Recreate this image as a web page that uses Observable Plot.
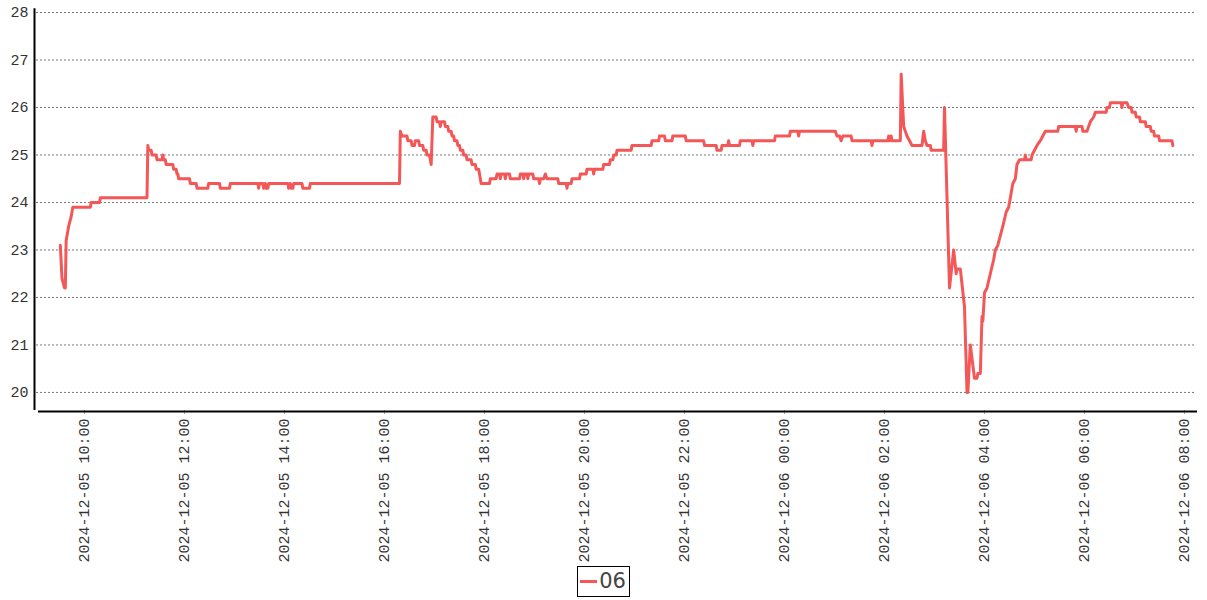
<!DOCTYPE html>
<html>
<head>
<meta charset="utf-8">
<script src="https://cdn.jsdelivr.net/npm/d3@7"></script>
<script src="https://cdn.jsdelivr.net/npm/@observablehq/plot@0.6"></script>
<style>
  body { margin: 0; background: #fff; }
  #legend { display: flex; justify-content: center; margin-top: 4px; }
  #legend .box { border: 1px solid #000; padding: 1px 3px 1px 2px; display: flex; align-items: center;
    font: 21px "DejaVu Sans", sans-serif; color: #444; line-height: 27px; }
  #legend .sw { width: 17px; height: 3px; background: #f35757; margin-right: 2px; }
</style>
</head>
<body>
<div id="chart"></div>
<div id="legend"><div class="box"><span class="sw"></span><span id="lg"></span></div></div>
<script>
const seriesName = "06";
const times = [
"2024-12-05 09:31","2024-12-05 09:33","2024-12-05 09:36","2024-12-05 09:37","2024-12-05 09:38","2024-12-05 09:41","2024-12-05 09:44","2024-12-05 09:46",
"2024-12-05 10:07","2024-12-05 10:08","2024-12-05 10:18","2024-12-05 10:19","2024-12-05 11:15","2024-12-05 11:16","2024-12-05 11:17","2024-12-05 11:20",
"2024-12-05 11:21","2024-12-05 11:26","2024-12-05 11:27","2024-12-05 11:33","2024-12-05 11:34","2024-12-05 11:35","2024-12-05 11:37","2024-12-05 11:38",
"2024-12-05 11:46","2024-12-05 11:47","2024-12-05 11:50","2024-12-05 11:51","2024-12-05 11:52","2024-12-05 11:53","2024-12-05 12:06","2024-12-05 12:07",
"2024-12-05 12:14","2024-12-05 12:15","2024-12-05 12:28","2024-12-05 12:29","2024-12-05 12:42","2024-12-05 12:43","2024-12-05 12:54","2024-12-05 12:55",
"2024-12-05 13:28","2024-12-05 13:29","2024-12-05 13:30","2024-12-05 13:34","2024-12-05 13:35","2024-12-05 13:37","2024-12-05 13:38","2024-12-05 13:40",
"2024-12-05 13:41","2024-12-05 14:04","2024-12-05 14:05","2024-12-05 14:07","2024-12-05 14:08","2024-12-05 14:10","2024-12-05 14:11","2024-12-05 14:21",
"2024-12-05 14:22","2024-12-05 14:30","2024-12-05 14:31","2024-12-05 16:18","2024-12-05 16:19","2024-12-05 16:21","2024-12-05 16:27","2024-12-05 16:28",
"2024-12-05 16:32","2024-12-05 16:33","2024-12-05 16:36","2024-12-05 16:37","2024-12-05 16:41","2024-12-05 16:42","2024-12-05 16:46","2024-12-05 16:47",
"2024-12-05 16:50","2024-12-05 16:51","2024-12-05 16:54","2024-12-05 16:56","2024-12-05 16:58","2024-12-05 17:02","2024-12-05 17:03","2024-12-05 17:06",
"2024-12-05 17:07","2024-12-05 17:08","2024-12-05 17:12","2024-12-05 17:13","2024-12-05 17:16","2024-12-05 17:17","2024-12-05 17:20","2024-12-05 17:21",
"2024-12-05 17:23","2024-12-05 17:24","2024-12-05 17:27","2024-12-05 17:28","2024-12-05 17:30","2024-12-05 17:31","2024-12-05 17:34","2024-12-05 17:35",
"2024-12-05 17:38","2024-12-05 17:39","2024-12-05 17:44","2024-12-05 17:45","2024-12-05 17:49","2024-12-05 17:50","2024-12-05 17:53","2024-12-05 17:54",
"2024-12-05 17:55","2024-12-05 17:56","2024-12-05 18:06","2024-12-05 18:07","2024-12-05 18:14","2024-12-05 18:15","2024-12-05 18:18","2024-12-05 18:19",
"2024-12-05 18:20","2024-12-05 18:24","2024-12-05 18:25","2024-12-05 18:26","2024-12-05 18:30","2024-12-05 18:31","2024-12-05 18:42","2024-12-05 18:43",
"2024-12-05 18:46","2024-12-05 18:47","2024-12-05 18:48","2024-12-05 18:51","2024-12-05 18:52","2024-12-05 18:53","2024-12-05 18:58","2024-12-05 18:59",
"2024-12-05 19:05","2024-12-05 19:06","2024-12-05 19:07","2024-12-05 19:11","2024-12-05 19:13","2024-12-05 19:15","2024-12-05 19:28","2024-12-05 19:29",
"2024-12-05 19:38","2024-12-05 19:39","2024-12-05 19:40","2024-12-05 19:44","2024-12-05 19:45","2024-12-05 19:54","2024-12-05 19:55","2024-12-05 20:02",
"2024-12-05 20:03","2024-12-05 20:10","2024-12-05 20:11","2024-12-05 20:12","2024-12-05 20:22","2024-12-05 20:23","2024-12-05 20:30","2024-12-05 20:31",
"2024-12-05 20:34","2024-12-05 20:35","2024-12-05 20:38","2024-12-05 20:39","2024-12-05 20:56","2024-12-05 20:57","2024-12-05 21:20","2024-12-05 21:21",
"2024-12-05 21:29","2024-12-05 21:30","2024-12-05 21:36","2024-12-05 21:37","2024-12-05 21:45","2024-12-05 21:46","2024-12-05 22:01","2024-12-05 22:02",
"2024-12-05 22:23","2024-12-05 22:24","2024-12-05 22:38","2024-12-05 22:39","2024-12-05 22:44","2024-12-05 22:45","2024-12-05 22:52","2024-12-05 22:53",
"2024-12-05 22:54","2024-12-05 23:06","2024-12-05 23:07","2024-12-05 23:21","2024-12-05 23:22","2024-12-05 23:23","2024-12-05 23:48","2024-12-05 23:49",
"2024-12-06 00:06","2024-12-06 00:07","2024-12-06 00:16","2024-12-06 00:17","2024-12-06 00:18","2024-12-06 01:01","2024-12-06 01:03","2024-12-06 01:06",
"2024-12-06 01:08","2024-12-06 01:10","2024-12-06 01:20","2024-12-06 01:21","2024-12-06 01:44","2024-12-06 01:45","2024-12-06 01:46","2024-12-06 02:04",
"2024-12-06 02:05","2024-12-06 02:06","2024-12-06 02:08","2024-12-06 02:09","2024-12-06 02:19","2024-12-06 02:20","2024-12-06 02:23","2024-12-06 02:25",
"2024-12-06 02:27","2024-12-06 02:30","2024-12-06 02:33","2024-12-06 02:45","2024-12-06 02:47","2024-12-06 02:49","2024-12-06 02:51","2024-12-06 02:55",
"2024-12-06 02:56","2024-12-06 03:11","2024-12-06 03:12","2024-12-06 03:18","2024-12-06 03:23","2024-12-06 03:26","2024-12-06 03:27","2024-12-06 03:31",
"2024-12-06 03:36","2024-12-06 03:39","2024-12-06 03:40","2024-12-06 03:43","2024-12-06 03:48","2024-12-06 03:51","2024-12-06 03:52","2024-12-06 03:55",
"2024-12-06 03:57","2024-12-06 03:58","2024-12-06 04:00","2024-12-06 04:03","2024-12-06 04:07","2024-12-06 04:11","2024-12-06 04:13","2024-12-06 04:16",
"2024-12-06 04:19","2024-12-06 04:22","2024-12-06 04:26","2024-12-06 04:29","2024-12-06 04:32","2024-12-06 04:34","2024-12-06 04:37","2024-12-06 04:39",
"2024-12-06 04:42","2024-12-06 04:48","2024-12-06 04:49","2024-12-06 04:50","2024-12-06 04:56","2024-12-06 04:57","2024-12-06 05:00","2024-12-06 05:03",
"2024-12-06 05:07","2024-12-06 05:10","2024-12-06 05:13","2024-12-06 05:28","2024-12-06 05:29","2024-12-06 05:49","2024-12-06 05:50","2024-12-06 05:51",
"2024-12-06 05:57","2024-12-06 05:58","2024-12-06 06:03","2024-12-06 06:07","2024-12-06 06:11","2024-12-06 06:13","2024-12-06 06:26","2024-12-06 06:27",
"2024-12-06 06:30","2024-12-06 06:31","2024-12-06 06:44","2024-12-06 06:45","2024-12-06 06:46","2024-12-06 06:51","2024-12-06 06:53","2024-12-06 06:56",
"2024-12-06 06:57","2024-12-06 07:01","2024-12-06 07:02","2024-12-06 07:06","2024-12-06 07:07","2024-12-06 07:13","2024-12-06 07:14","2024-12-06 07:19",
"2024-12-06 07:20","2024-12-06 07:23","2024-12-06 07:24","2024-12-06 07:29","2024-12-06 07:30","2024-12-06 07:45","2024-12-06 07:46"
];
const temps = [
23.1,22.4,22.2,22.2,23.2,23.5,23.7,23.9,
23.9,24.0,24.0,24.1,24.1,25.2,25.1,25.1,
25.0,25.0,24.9,24.9,25.0,24.9,24.9,24.8,
24.8,24.7,24.7,24.6,24.6,24.5,24.5,24.4,
24.4,24.3,24.3,24.4,24.4,24.3,24.3,24.4,
24.4,24.3,24.4,24.4,24.3,24.4,24.3,24.3,
24.4,24.4,24.3,24.4,24.3,24.3,24.4,24.4,
24.3,24.3,24.4,24.4,25.5,25.4,25.4,25.3,
25.3,25.2,25.2,25.3,25.3,25.2,25.2,25.1,
25.1,25.0,25.0,24.8,25.8,25.8,25.7,25.7,
25.6,25.7,25.7,25.6,25.6,25.5,25.5,25.4,
25.4,25.3,25.3,25.2,25.2,25.1,25.1,25.0,
25.0,24.9,24.9,24.8,24.8,24.7,24.7,24.6,
24.5,24.4,24.4,24.5,24.5,24.6,24.6,24.5,
24.6,24.6,24.5,24.6,24.6,24.5,24.5,24.6,
24.6,24.5,24.6,24.6,24.5,24.6,24.6,24.5,
24.5,24.4,24.5,24.5,24.6,24.5,24.5,24.4,
24.4,24.3,24.4,24.4,24.5,24.5,24.6,24.6,
24.7,24.7,24.6,24.7,24.7,24.8,24.8,24.9,
24.9,25.0,25.0,25.1,25.1,25.2,25.2,25.3,
25.3,25.4,25.4,25.3,25.3,25.4,25.4,25.3,
25.3,25.2,25.2,25.1,25.1,25.2,25.2,25.3,
25.2,25.2,25.3,25.3,25.2,25.3,25.3,25.4,
25.4,25.5,25.5,25.4,25.5,25.5,25.4,25.4,
25.3,25.4,25.4,25.3,25.3,25.2,25.3,25.3,
25.4,25.3,25.4,25.3,25.3,26.7,25.6,25.5,
25.4,25.3,25.2,25.2,25.5,25.3,25.2,25.2,
25.1,25.1,26.0,22.2,23.0,22.5,22.6,22.6,
21.8,20.0,20.0,21.0,20.3,20.3,20.4,20.4,
21.6,21.5,22.1,22.2,22.5,22.8,23.0,23.1,
23.3,23.5,23.8,23.9,24.2,24.4,24.5,24.8,
24.9,24.9,25.0,24.9,24.9,25.0,25.1,25.2,
25.3,25.4,25.5,25.5,25.6,25.6,25.5,25.6,
25.6,25.5,25.5,25.7,25.8,25.9,25.9,26.0,
26.0,26.1,26.1,26.0,26.1,26.1,26.0,26.0,
25.9,25.9,25.8,25.8,25.7,25.7,25.6,25.6,
25.5,25.5,25.4,25.4,25.3,25.3,25.2
];
const yTicks = [20, 21, 22, 23, 24, 25, 26, 27, 28];
const xDomain = ["2024-12-05 09:04:48", "2024-12-06 08:15:36"];
const yDomain = [19.62, 28];
const lineColor = "#f35757";

const parse = d3.utcParse("%Y-%m-%d %H:%M");
const parseS = d3.utcParse("%Y-%m-%d %H:%M:%S");
const data = times.map((t, i) => ({ time: parse(t), temp: temps[i] }));
const xd = xDomain.map(parseS);

const chart = Plot.plot({
  width: 1207,
  height: 562,
  marginLeft: 38,
  marginRight: 10,
  marginTop: 12,
  marginBottom: 152,
  style: { fontFamily: "'Liberation Mono', monospace", fontSize: "15px", color: "#333", background: "#fff", overflow: "visible" },
  x: { type: "utc", domain: xd },
  y: { domain: yDomain },
  marks: [
    Plot.gridY(yTicks, { stroke: "#777", strokeOpacity: 1, strokeDasharray: "2,2", strokeWidth: 1, dx: -2 }),
    Plot.axisY(yTicks, { tickSize: 0, tickPadding: 10, label: null, tickFormat: d => String(d) }),
    Plot.axisX({ ticks: d3.utcHour.every(2), tickFormat: d3.utcFormat("%Y-%m-%d %H:%M"), tickRotate: -90,
      tickSize: 4, tickPadding: 4, label: null, stroke: "#aaa" }),
    Plot.ruleY([yDomain[0]], { stroke: "#000", strokeWidth: 2, dy: 1 }),
    Plot.ruleX([xd[0]], { y1: yDomain[0], y2: 28.08, stroke: "#000", strokeWidth: 2, dx: -4 }),
    Plot.line(data, { x: "time", y: "temp", stroke: lineColor, strokeWidth: 3, strokeLinejoin: "round" })
  ]
});
document.getElementById("chart").append(chart);
document.getElementById("lg").textContent = seriesName;
</script>
</body>
</html>
